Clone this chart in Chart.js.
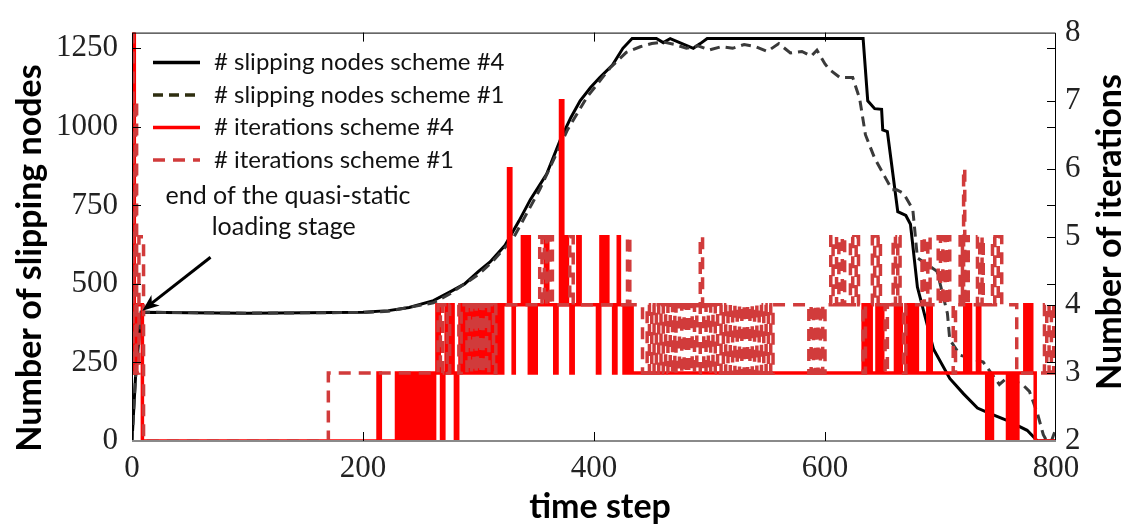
<!DOCTYPE html>
<html lang="en">
<head>
  <meta charset="UTF-8">
  <title>Slipping nodes and iterations</title>
  <script src="https://cdn.jsdelivr.net/npm/chart.js"></script>
  <style>
    html, body {
      margin: 0;
      padding: 0;
      background: #ffffff;
    }
    #wrap {
      width: 1133px;
      height: 527px;
    }
  </style>
</head>
<body>
  <div id="wrap"><canvas id="chart" width="1133" height="527"></canvas></div>

  <script>
    // slipping nodes per time step [step, count]
    const nodesScheme4 = [
      [0, 0], [3, 200], [8, 410], [50, 408], [100, 407], [150, 408], [200, 410], [222, 415],
      [240, 425], [261, 447], [275, 474], [288, 500], [300, 540], [310, 570], [323, 623],
      [335, 700], [345, 769], [359, 850], [371, 960], [380, 1030], [388, 1083], [397, 1125],
      [405, 1157], [416, 1197], [425, 1250], [433, 1281], [454, 1281], [460, 1268], [466, 1281],
      [486, 1250], [492, 1265], [498, 1281], [633, 1281], [637, 1083], [643, 1058], [649, 1056],
      [650, 990], [654, 985], [657, 900], [663, 730], [670, 718], [674, 690], [680, 490],
      [694, 292], [708, 199], [720, 150], [732, 105], [743, 87], [758, 65], [775, 34],
      [784, 0], [800, 0]
    ];
    const nodesScheme1 = [
      [0, 0], [3, 200], [8, 410], [100, 407], [200, 409], [222, 413], [261, 440], [275, 468],
      [300, 530], [312, 571], [330, 645], [353, 800], [377, 990], [394, 1095], [414, 1188],
      [428, 1237], [440, 1255], [450, 1265], [460, 1270], [470, 1262], [480, 1250], [490, 1258],
      [500, 1245], [510, 1255], [520, 1250], [530, 1262], [540, 1255], [550, 1240], [560, 1265],
      [570, 1235], [580, 1240], [588, 1225], [593, 1244], [600, 1200], [604, 1182], [613, 1157],
      [624, 1157], [630, 1090], [635, 975], [643, 900], [652, 840], [658, 800], [662, 800],
      [668, 788], [676, 738], [680, 583], [697, 540], [706, 406], [708, 323], [717, 273],
      [732, 257], [737, 251], [751, 180], [757, 199], [771, 180], [777, 158], [784, 87],
      [789, 20], [792, 0], [796, 0], [800, 40]
    ];

    // iterations per time step, [step, value] where the value changes
    const itersScheme4 = [
      [0, 8], [2, 3], [4, 4], [7, 4], [9, 2],
      [213, 3], [215, 2], [229, 3], [231, 2], [234, 3], [236, 2], [238, 3], [239, 2], [241, 3],
      [243, 2], [245, 3], [246, 2], [249, 3], [251, 2], [253, 3], [255, 2], [257, 3], [259, 2],
      [262, 3], [264, 4], [266, 3], [268, 2], [270, 3], [272, 4], [274, 3], [276, 4], [278, 3],
      [280, 2], [282, 3], [284, 4], [287, 3], [289, 4], [292, 3], [294, 4], [297, 3], [298, 4],
      [301, 3], [303, 4], [305, 3], [306, 4], [309, 3], [311, 4], [314, 3], [316, 4], [319, 3],
      [321, 4], [326, 6], [328, 4], [330, 3], [331, 4], [338, 5], [340, 4], [343, 5], [344, 3],
      [346, 4], [348, 3], [350, 4], [358, 5], [360, 4], [366, 3], [368, 4], [371, 7], [373, 4],
      [375, 5], [377, 4], [380, 3], [382, 4], [386, 5], [388, 4], [403, 3], [405, 4], [406, 5],
      [408, 4], [410, 5], [412, 4], [417, 3], [419, 4], [421, 5], [422, 4], [426, 3], [428, 4],
      [429, 3], [430, 4], [433, 3],
      [633, 4], [636, 3], [638, 4], [640, 3], [645, 4], [647, 3], [649, 4], [650, 3], [661, 4],
      [663, 3], [665, 4], [666, 3], [671, 4], [673, 3], [675, 4], [677, 3], [679, 4], [680, 3],
      [689, 4], [692, 3], [721, 4], [723, 3], [725, 4], [726, 3], [732, 4], [734, 3], [740, 2],
      [741, 3], [743, 2], [745, 3], [758, 2], [759, 3], [761, 2], [762, 3], [765, 2], [767, 3],
      [773, 4], [775, 3], [777, 4], [779, 3], [782, 2], [800, 2]
    ];
    const itersScheme1 = [
      [0, 8], [1, 3], [3, 7], [4, 3], [6, 5], [8, 5], [10, 2], [170, 3],
      [265, 4], [267, 3], [269, 4], [273, 3], [275, 4], [283, 3], [285, 4], [290, 3], [292, 4],
      [294, 3], [296, 4], [298, 3], [299, 4], [302, 3], [304, 4], [307, 3], [309, 4], [313, 3],
      [315, 4], [353, 5], [355, 4], [357, 5], [359, 4], [362, 5], [364, 4], [379, 5], [382, 4],
      [429, 5], [431, 4], [442, 3], [446, 4], [448, 3], [450, 4], [452, 3], [454, 4], [456, 3],
      [458, 4], [460, 3], [462, 4], [464, 3], [466, 4], [468, 3], [470, 4], [471, 3], [474, 4],
      [476, 3], [478, 4], [480, 3], [482, 4], [485, 3], [487, 4], [489, 3], [492, 5], [494, 4],
      [495, 3], [497, 4], [499, 3], [501, 4], [503, 3], [505, 4], [507, 3], [510, 4], [512, 3],
      [514, 4], [516, 3], [518, 4], [520, 3], [522, 4], [524, 3], [526, 4], [528, 3], [530, 4],
      [533, 3], [535, 4], [537, 3], [539, 4], [541, 3], [543, 4], [545, 3], [547, 4], [549, 3],
      [551, 4], [553, 3], [555, 4], [586, 3], [588, 4], [590, 3], [592, 4], [594, 3], [596, 4],
      [598, 3], [600, 4], [605, 5], [607, 4], [610, 5], [612, 4], [615, 5], [617, 4], [622, 5],
      [624, 4], [627, 5], [629, 4], [633, 3], [635, 4], [641, 5], [643, 4], [646, 5], [648, 4],
      [652, 3], [654, 4], [659, 5], [661, 4], [663, 5], [665, 4], [668, 3], [670, 4], [684, 5],
      [686, 4], [689, 5], [691, 4], [698, 5], [700, 4], [702, 5], [704, 4], [706, 5], [708, 4],
      [711, 3], [713, 4], [717, 5], [719, 4], [720, 6], [721, 4], [723, 5], [724, 4], [732, 5],
      [734, 4], [736, 5], [737, 4], [745, 5], [747, 4], [750, 5], [753, 4], [766, 3], [790, 4],
      [792, 3], [794, 4], [796, 3], [798, 4], [800, 4]
    ];

    const xTicks = [0, 200, 400, 600, 800];
    const nodeTicks = [0, 250, 500, 750, 1000, 1250];
    const iterTicks = [2, 3, 4, 5, 6, 7, 8];

    const labels = [
      '# slipping nodes scheme #4',
      '# slipping nodes scheme #1',
      '# iterations scheme #4',
      '# iterations scheme #1'
    ];
    const noteLines = ['end of the quasi-static', 'loading stage'];

    const serif = '"Liberation Serif", "Times New Roman", serif';
    const sans = 'Lato, "Open Sans", sans-serif';

    // frame, inward ticks, legend, note with arrow and axis titles
    const decor = {
      id: 'decor',
      afterDatasetsDraw(chart) {
        const { ctx, chartArea: a, scales } = chart;
        const sx = scales.x, sy = scales.y, sy2 = scales.y2;
        ctx.save();

        // axes box
        ctx.strokeStyle = '#000';
        ctx.lineWidth = 1;
        ctx.beginPath();
        ctx.moveTo(a.left + 0.5, a.bottom);
        ctx.lineTo(a.left + 0.5, a.top + 0.5);
        ctx.lineTo(a.right - 0.5, a.top + 0.5);
        ctx.lineTo(a.right - 0.5, a.bottom);
        ctx.stroke();
        ctx.strokeStyle = '#8a8a8a';
        ctx.lineWidth = 2;
        ctx.beginPath();
        ctx.moveTo(a.left, a.bottom);
        ctx.lineTo(a.right, a.bottom);
        ctx.stroke();

        const tl = 9;
        ctx.strokeStyle = '#000';
        ctx.lineWidth = 1;
        ctx.beginPath();
        xTicks.slice(1, -1).forEach(v => {
          const px = Math.round(sx.getPixelForValue(v)) + 0.5;
          ctx.moveTo(px, a.bottom); ctx.lineTo(px, a.bottom - tl);
          ctx.moveTo(px, a.top); ctx.lineTo(px, a.top + tl);
        });
        nodeTicks.slice(1).forEach(v => {
          const py = Math.round(sy.getPixelForValue(v)) + 0.5;
          ctx.moveTo(a.left, py); ctx.lineTo(a.left + tl, py);
          ctx.moveTo(a.right, py); ctx.lineTo(a.right - tl, py);
        });
        iterTicks.slice(1, -1).forEach(v => {
          const py = Math.round(sy2.getPixelForValue(v)) + 0.5;
          ctx.moveTo(a.right, py); ctx.lineTo(a.right - tl, py);
        });
        ctx.stroke();

        // legend, same order as the labels list
        const ds = chart.data.datasets;
        ctx.font = '24px ' + sans;
        ctx.textBaseline = 'middle';
        ctx.fillStyle = '#111';
        labels.forEach((txt, i) => {
          const d = ds.find(s => s.label === txt);
          const y = a.top + 30 + i * 32.5;
          ctx.strokeStyle = d.legendColor || d.borderColor;
          ctx.lineWidth = 3.5;
          ctx.setLineDash(d.borderDash || []);
          ctx.beginPath();
          ctx.moveTo(a.left + 21, y);
          ctx.lineTo(a.left + 68, y);
          ctx.stroke();
          ctx.setLineDash([]);
          ctx.fillText(txt, a.left + 82, y);
        });

        // note about the end of loading
        ctx.fillStyle = '#111';
        ctx.font = '25px ' + sans;
        ctx.fillText(noteLines[0], sx.getPixelForValue(29), sy.getPixelForValue(780));
        ctx.fillText(noteLines[1], sx.getPixelForValue(69), sy.getPixelForValue(680));
        const tipX = sx.getPixelForValue(9), tipY = sy.getPixelForValue(415);
        const tailX = sx.getPixelForValue(68), tailY = sy.getPixelForValue(585);
        const ang = Math.atan2(tipY - tailY, tipX - tailX);
        ctx.strokeStyle = '#000';
        ctx.lineWidth = 3;
        ctx.beginPath();
        ctx.moveTo(tailX, tailY);
        ctx.lineTo(tipX - 8 * Math.cos(ang), tipY - 8 * Math.sin(ang));
        ctx.stroke();
        ctx.fillStyle = '#000';
        ctx.beginPath();
        ctx.moveTo(tipX, tipY);
        ctx.lineTo(tipX - 18 * Math.cos(ang - 0.38), tipY - 18 * Math.sin(ang - 0.38));
        ctx.lineTo(tipX - 12 * Math.cos(ang), tipY - 12 * Math.sin(ang));
        ctx.lineTo(tipX - 18 * Math.cos(ang + 0.38), tipY - 18 * Math.sin(ang + 0.38));
        ctx.closePath();
        ctx.fill();

        // axis titles
        ctx.fillStyle = '#000';
        ctx.font = 'bold 34px ' + sans;
        ctx.textAlign = 'center';
        ctx.textBaseline = 'middle';
        ctx.fillText('time step', (a.left + a.right) / 2 + 6, 507);
        ctx.save();
        ctx.translate(30, 258);
        ctx.rotate(-Math.PI / 2);
        ctx.fillText('Number of slipping nodes', 0, 0);
        ctx.restore();
        ctx.save();
        ctx.translate(1110, 232);
        ctx.rotate(-Math.PI / 2);
        ctx.fillText('Number of iterations', 0, 0);
        ctx.restore();

        ctx.restore();
      }
    };

    const tickFont = { family: serif, size: 31 };
    const plain = v => String(v);

    new Chart(document.getElementById('chart'), {
      type: 'line',
      data: {
        datasets: [
          {
            label: labels[3], data: itersScheme1, yAxisID: 'y2', stepped: true,
            borderColor: '#d13b3b', borderWidth: 3.5, borderDash: [12, 8], order: 1
          },
          {
            label: labels[2], data: itersScheme4, yAxisID: 'y2', stepped: true,
            borderColor: '#ff0000', borderWidth: 3.5, order: 2
          },
          {
            label: labels[1], data: nodesScheme1, yAxisID: 'y',
            borderColor: '#3a3a3a', legendColor: '#2e2e10', borderWidth: 3, borderDash: [10, 6], order: 3
          },
          {
            label: labels[0], data: nodesScheme4, yAxisID: 'y',
            borderColor: '#000000', borderWidth: 3, order: 4
          }
        ]
      },
      options: {
        responsive: false,
        animation: false,
        events: [],
        layout: { padding: { top: 22, left: 0, right: 0, bottom: 0 } },
        elements: { point: { radius: 0 }, line: { tension: 0, borderCapStyle: 'butt' } },
        plugins: { legend: { display: false }, tooltip: { enabled: false } },
        scales: {
          x: {
            type: 'linear', min: 0, max: 800,
            grid: { display: false, drawTicks: false },
            border: { display: false },
            afterBuildTicks: s => { s.ticks = xTicks.map(v => ({ value: v })); },
            afterFit: s => { s.height = 86; },
            ticks: { font: tickFont, color: '#222', padding: 9, maxRotation: 0, callback: plain }
          },
          y: {
            type: 'linear', position: 'left', min: 0, max: 1300,
            grid: { display: false, drawTicks: false },
            border: { display: false },
            afterBuildTicks: s => { s.ticks = nodeTicks.map(v => ({ value: v })); },
            afterFit: s => { s.width = 132; },
            ticks: { font: tickFont, color: '#222', padding: 14, callback: plain }
          },
          y2: {
            type: 'linear', position: 'right', min: 2, max: 8,
            grid: { display: false, drawTicks: false },
            border: { display: false },
            afterBuildTicks: s => { s.ticks = iterTicks.map(v => ({ value: v })); },
            afterFit: s => { s.width = 77; },
            ticks: { font: tickFont, color: '#222', padding: 9, callback: plain }
          }
        }
      },
      plugins: [decor]
    });
  </script>
</body>
</html>
